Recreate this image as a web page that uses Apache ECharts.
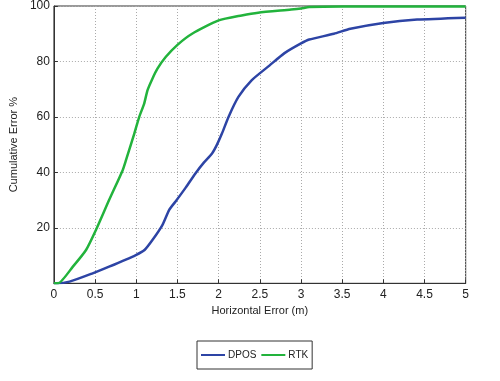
<!DOCTYPE html>
<html>
<head>
<meta charset="utf-8">
<script src="https://cdn.jsdelivr.net/npm/echarts@6/dist/echarts.min.js"></script>
<style>
html,body{margin:0;padding:0;background:#fff;}
#chart{width:500px;height:381px;}
</style>
</head>
<body>
<div id="chart"></div>
<script>
var xTicks = [0, 0.5, 1, 1.5, 2, 2.5, 3, 3.5, 4, 4.5, 5];
var yTicks = [20, 40, 60, 80, 100];

var seriesNames = ['DPOS', 'RTK'];

var dposX = [0, 0.03, 0.19, 0.47, 0.67, 0.995, 1.1, 1.196, 1.317, 1.4, 1.477, 1.6, 1.718, 1.82, 1.92, 1.98, 2.04, 2.12, 2.24, 2.4, 2.62, 2.8, 3.0, 3.1, 3.4, 3.6, 4.0, 4.41, 5.0];
var dposY = [0, 0, 0.6, 3.6, 6, 10.2, 12, 15.6, 21, 26.5, 29.5, 34.5, 39.6, 43.5, 46.8, 50, 54, 60, 67.2, 73.2, 78.6, 83, 86.5, 87.9, 90, 91.8, 93.9, 95.1, 95.8];

var rtkX = [0, 0.05, 0.23, 0.39, 0.51, 0.67, 0.835, 0.875, 0.976, 1.036, 1.096, 1.136, 1.196, 1.257, 1.357, 1.5, 1.678, 2.0, 2.28, 2.48, 2.88, 3.0, 3.1, 3.5, 5.0];
var rtkY = [0, 0, 6, 12, 19.2, 30, 40.8, 44.4, 54, 60, 64.8, 69.6, 73.8, 77.4, 81.6, 86, 90, 94.8, 96.6, 97.6, 98.7, 99.1, 99.6, 99.8, 99.8];

function pairs(xs, ys) { return xs.map(function (x, i) { return [x, ys[i]]; }); }

var FONT = '"Liberation Sans", Arial, sans-serif';
var chart = echarts.init(document.getElementById('chart'));
chart.setOption({
  animation: false,
  backgroundColor: '#ffffff',
  grid: {left: 50.7, right: 34.3, top: 5.7, bottom: 97.7, show: true, borderColor: '#333', borderWidth: 1, containLabel: false},
  legend: {
    data: seriesNames,
    left: 197, top: 341,
    orient: 'horizontal',
    icon: 'rect', itemWidth: 24, itemHeight: 2, itemGap: 5,
    borderColor: '#333', borderWidth: 1, padding: [9, 4, 9, 4],
    textStyle: {fontFamily: FONT, fontSize: 10, color: '#222', padding: [0, 0, 0, -2]}
  },
  xAxis: {
    type: 'value', min: 0, max: 5, interval: 0.5,
    name: 'Horizontal Error (m)', nameLocation: 'middle', nameGap: 20,
    nameTextStyle: {fontFamily: FONT, fontSize: 11, color: '#222'},
    axisLine: {show: true, lineStyle: {color: '#333', width: 1}},
    axisTick: {show: true, inside: true, length: 4, lineStyle: {color: '#333'}},
    axisLabel: {fontFamily: FONT, fontSize: 12, color: '#222', margin: 5,
      formatter: function (v) { return xTicks.indexOf(v) >= 0 ? String(v) : ''; }},
    splitLine: {show: true, lineStyle: {color: '#aaa', type: [1, 2], width: 1}}
  },
  yAxis: {
    type: 'value', min: 0, max: 100, interval: 20,
    name: 'Cumulative Error %', nameLocation: 'middle', nameGap: 24,
    nameTextStyle: {fontFamily: FONT, fontSize: 11, color: '#222'},
    axisLine: {show: true, lineStyle: {color: '#333', width: 1}},
    axisTick: {show: true, inside: true, length: 4, lineStyle: {color: '#333'}},
    axisLabel: {fontFamily: FONT, fontSize: 12, color: '#222', margin: 4,
      formatter: function (v) { return yTicks.indexOf(v) >= 0 ? String(v) : ''; }},
    splitLine: {show: true, lineStyle: {color: '#aaa', type: [1, 2], width: 1}}
  },
  series: [
    {name: seriesNames[0], type: 'line', data: pairs(dposX, dposY), showSymbol: false, smooth: 0.2,
     lineStyle: {color: '#2d44a5', width: 2.5}, itemStyle: {color: '#2d44a5'}, z: 3},
    {name: seriesNames[1], type: 'line', data: pairs(rtkX, rtkY), showSymbol: false, smooth: 0.2,
     lineStyle: {color: '#22b33c', width: 2.5}, itemStyle: {color: '#22b33c'}, z: 4}
  ]
});
</script>
</body>
</html>
